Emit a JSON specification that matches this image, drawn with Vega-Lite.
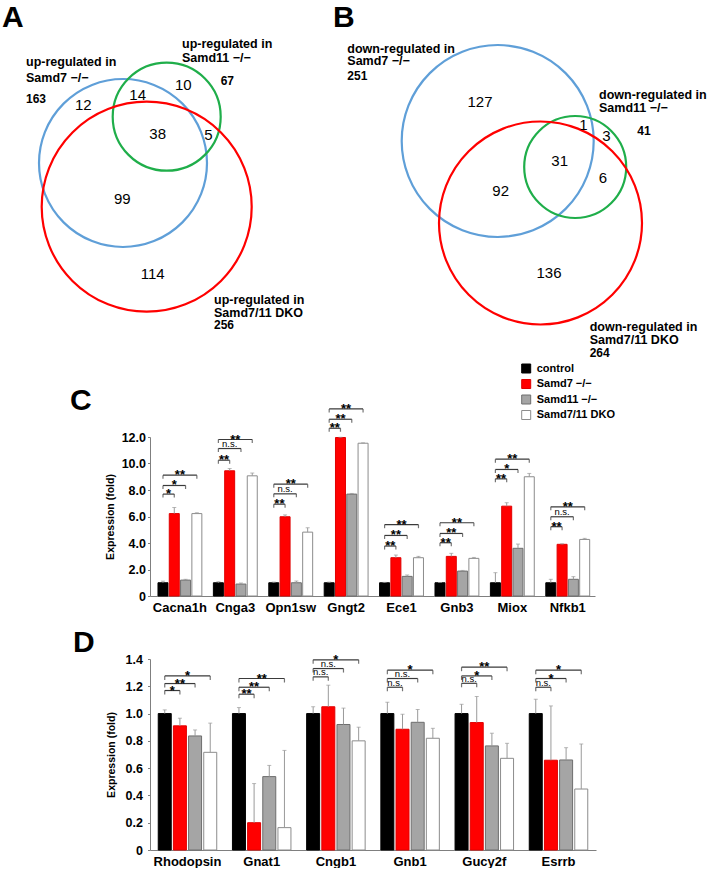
{
"$schema":"https://vega.github.io/schema/vega-lite/v6.json",
"padding":{"left":2,"top":0,"right":0,"bottom":0},
"bounds":"flush",
"spacing":63,
"config":{
 "view":{"stroke":null},
 "font":"Liberation Sans",
 "text":{"font":"Liberation Sans","color":"black"},
 "axis":{"labelFont":"Liberation Sans","titleFont":"Liberation Sans","labelColor":"black","titleColor":"black","domainColor":"#7f7f7f","domainWidth":1,"tickColor":"#7f7f7f","grid":false},
 "axisY":{"titleFontSize":10.5,"titleFontWeight":"bold","labelFontSize":12.5,"labelFontWeight":"bold","tickSize":2.5,"labelOverlap":false},
 "legend":{"labelFont":"Liberation Sans"}
},
"datasets":{
 "vc":[
  {"vx":123,"vy":163,"r":84,"set":"Samd7"},
  {"vx":166.7,"vy":116.7,"r":54,"set":"Samd11"},
  {"vx":146.7,"vy":206.7,"r":105,"set":"DKO"},
  {"vx":497.7,"vy":141,"r":96,"set":"Samd7"},
  {"vx":575.2,"vy":167,"r":51,"set":"Samd11"},
  {"vx":540.5,"vy":223,"r":101.5,"set":"DKO"}
 ],
 "vt":[
  {"vx":2,"vy":27.3,"t":"A","k":"let"},
  {"vx":333,"vy":26.7,"t":"B","k":"let"},
  {"vx":70,"vy":410,"t":"C","k":"let"},
  {"vx":73,"vy":651.7,"t":"D","k":"let"},
  {"vx":26,"vy":66,"t":"up-regulated in","k":"lab"},
  {"vx":26,"vy":81.5,"t":"Samd7 −/−","k":"lab"},
  {"vx":182,"vy":48.3,"t":"up-regulated in","k":"lab"},
  {"vx":182,"vy":62.3,"t":"Samd11 −/−","k":"lab"},
  {"vx":214,"vy":304,"t":"up-regulated in","k":"lab"},
  {"vx":214,"vy":317.3,"t":"Samd7/11 DKO","k":"lab"},
  {"vx":347.3,"vy":53,"t":"down-regulated in","k":"lab"},
  {"vx":347.3,"vy":65,"t":"Samd7 −/−","k":"lab"},
  {"vx":599,"vy":99,"t":"down-regulated in","k":"lab"},
  {"vx":599,"vy":111.7,"t":"Samd11 −/−","k":"lab"},
  {"vx":589.7,"vy":330.7,"t":"down-regulated in","k":"lab"},
  {"vx":589.7,"vy":344,"t":"Samd7/11 DKO","k":"lab"},
  {"vx":26,"vy":103,"t":"163","k":"cnt"},
  {"vx":220.7,"vy":84.6,"t":"67","k":"cnt"},
  {"vx":214,"vy":329,"t":"256","k":"cnt"},
  {"vx":347.3,"vy":80.3,"t":"251","k":"cnt"},
  {"vx":637.3,"vy":134.7,"t":"41","k":"cnt"},
  {"vx":589.7,"vy":357,"t":"264","k":"cnt"},
  {"vx":83.3,"vy":105,"t":"12","k":"num"},
  {"vx":137.7,"vy":95,"t":"14","k":"num"},
  {"vx":183.3,"vy":85,"t":"10","k":"num"},
  {"vx":157.7,"vy":134.3,"t":"38","k":"num"},
  {"vx":208.3,"vy":135,"t":"5","k":"num"},
  {"vx":122.3,"vy":199,"t":"99","k":"num"},
  {"vx":152.7,"vy":274,"t":"114","k":"num"},
  {"vx":480,"vy":102.3,"t":"127","k":"num"},
  {"vx":583.5,"vy":124.5,"t":"1","k":"num"},
  {"vx":606.5,"vy":136,"t":"3","k":"num"},
  {"vx":559.7,"vy":161,"t":"31","k":"num"},
  {"vx":603,"vy":178.3,"t":"6","k":"num"},
  {"vx":500.7,"vy":190.7,"t":"92","k":"num"},
  {"vx":549,"vy":273.3,"t":"136","k":"num"}
 ],
 "cb":[
  {"gene":"Cacna1h","cond":"control","value":1.0,"hi":1.12},
  {"gene":"Cacna1h","cond":"Samd7 −/−","value":6.22,"hi":6.68},
  {"gene":"Cacna1h","cond":"Samd11 −/−","value":1.2,"hi":1.26},
  {"gene":"Cacna1h","cond":"Samd7/11 DKO","value":6.22,"hi":6.28},
  {"gene":"Cnga3","cond":"control","value":1.0,"hi":1.08},
  {"gene":"Cnga3","cond":"Samd7 −/−","value":9.45,"hi":9.62},
  {"gene":"Cnga3","cond":"Samd11 −/−","value":0.9,"hi":0.98},
  {"gene":"Cnga3","cond":"Samd7/11 DKO","value":9.07,"hi":9.28},
  {"gene":"Opn1sw","cond":"control","value":1.0,"hi":1.05},
  {"gene":"Opn1sw","cond":"Samd7 −/−","value":5.98,"hi":6.12},
  {"gene":"Opn1sw","cond":"Samd11 −/−","value":1.0,"hi":1.13},
  {"gene":"Opn1sw","cond":"Samd7/11 DKO","value":4.82,"hi":5.15},
  {"gene":"Gngt2","cond":"control","value":1.0,"hi":1.05},
  {"gene":"Gngt2","cond":"Samd7 −/−","value":11.96,"hi":11.98},
  {"gene":"Gngt2","cond":"Samd11 −/−","value":7.69,"hi":7.74},
  {"gene":"Gngt2","cond":"Samd7/11 DKO","value":11.53,"hi":11.56},
  {"gene":"Ece1","cond":"control","value":1.0,"hi":1.03},
  {"gene":"Ece1","cond":"Samd7 −/−","value":2.89,"hi":3.09},
  {"gene":"Ece1","cond":"Samd11 −/−","value":1.48,"hi":1.58},
  {"gene":"Ece1","cond":"Samd7/11 DKO","value":2.89,"hi":2.99},
  {"gene":"Gnb3","cond":"control","value":1.0,"hi":1.02},
  {"gene":"Gnb3","cond":"Samd7 −/−","value":2.99,"hi":3.22},
  {"gene":"Gnb3","cond":"Samd11 −/−","value":1.88,"hi":1.93},
  {"gene":"Gnb3","cond":"Samd7/11 DKO","value":2.84,"hi":2.91},
  {"gene":"Miox","cond":"control","value":1.0,"hi":1.76},
  {"gene":"Miox","cond":"Samd7 −/−","value":6.78,"hi":7.04},
  {"gene":"Miox","cond":"Samd11 −/−","value":3.6,"hi":3.92},
  {"gene":"Miox","cond":"Samd7/11 DKO","value":9.0,"hi":9.25},
  {"gene":"Nfkb1","cond":"control","value":1.0,"hi":1.26},
  {"gene":"Nfkb1","cond":"Samd7 −/−","value":3.9,"hi":3.94},
  {"gene":"Nfkb1","cond":"Samd11 −/−","value":1.26,"hi":1.46},
  {"gene":"Nfkb1","cond":"Samd7/11 DKO","value":4.27,"hi":4.35}
 ],
 "ck":[
  {"gene":"Cacna1h","from":"control","to":"Samd7 −/−","lvl":7.69,"lab":"*"},
  {"gene":"Cacna1h","from":"control","to":"Samd11 −/−","lvl":8.34,"lab":"*"},
  {"gene":"Cacna1h","from":"control","to":"Samd7/11 DKO","lvl":9.12,"lab":"**"},
  {"gene":"Cnga3","from":"control","to":"Samd7 −/−","lvl":10.25,"lab":"**"},
  {"gene":"Cnga3","from":"control","to":"Samd11 −/−","lvl":11.13,"lab":"n.s."},
  {"gene":"Cnga3","from":"control","to":"Samd7/11 DKO","lvl":11.81,"lab":"**"},
  {"gene":"Opn1sw","from":"control","to":"Samd7 −/−","lvl":6.93,"lab":"**"},
  {"gene":"Opn1sw","from":"control","to":"Samd11 −/−","lvl":7.71,"lab":"n.s."},
  {"gene":"Opn1sw","from":"control","to":"Samd7/11 DKO","lvl":8.44,"lab":"**"},
  {"gene":"Gngt2","from":"control","to":"Samd7 −/−","lvl":12.66,"lab":"**"},
  {"gene":"Gngt2","from":"control","to":"Samd11 −/−","lvl":13.34,"lab":"**"},
  {"gene":"Gngt2","from":"control","to":"Samd7/11 DKO","lvl":14.12,"lab":"**"},
  {"gene":"Ece1","from":"control","to":"Samd7 −/−","lvl":3.77,"lab":"**"},
  {"gene":"Ece1","from":"control","to":"Samd11 −/−","lvl":4.57,"lab":"**"},
  {"gene":"Ece1","from":"control","to":"Samd7/11 DKO","lvl":5.38,"lab":"**"},
  {"gene":"Gnb3","from":"control","to":"Samd7 −/−","lvl":4.02,"lab":"**"},
  {"gene":"Gnb3","from":"control","to":"Samd11 −/−","lvl":4.72,"lab":"**"},
  {"gene":"Gnb3","from":"control","to":"Samd7/11 DKO","lvl":5.53,"lab":"**"},
  {"gene":"Miox","from":"control","to":"Samd7 −/−","lvl":8.84,"lab":"**"},
  {"gene":"Miox","from":"control","to":"Samd11 −/−","lvl":9.55,"lab":"*"},
  {"gene":"Miox","from":"control","to":"Samd7/11 DKO","lvl":10.33,"lab":"**"},
  {"gene":"Nfkb1","from":"control","to":"Samd7 −/−","lvl":5.23,"lab":"**"},
  {"gene":"Nfkb1","from":"control","to":"Samd11 −/−","lvl":5.98,"lab":"n.s."},
  {"gene":"Nfkb1","from":"control","to":"Samd7/11 DKO","lvl":6.73,"lab":"**"}
 ],
 "db":[
  {"gene":"Rhodopsin","cond":"control","value":1.0,"hi":1.027},
  {"gene":"Rhodopsin","cond":"Samd7 −/−","value":0.91,"hi":0.966},
  {"gene":"Rhodopsin","cond":"Samd11 −/−","value":0.836,"hi":0.88},
  {"gene":"Rhodopsin","cond":"Samd7/11 DKO","value":0.716,"hi":0.93},
  {"gene":"Gnat1","cond":"control","value":1.0,"hi":1.044},
  {"gene":"Gnat1","cond":"Samd7 −/−","value":0.2,"hi":0.487},
  {"gene":"Gnat1","cond":"Samd11 −/−","value":0.538,"hi":0.62},
  {"gene":"Gnat1","cond":"Samd7/11 DKO","value":0.164,"hi":0.73},
  {"gene":"Cngb1","cond":"control","value":1.0,"hi":1.05},
  {"gene":"Cngb1","cond":"Samd7 −/−","value":1.05,"hi":1.208},
  {"gene":"Cngb1","cond":"Samd11 −/−","value":0.92,"hi":1.04},
  {"gene":"Cngb1","cond":"Samd7/11 DKO","value":0.8,"hi":0.9},
  {"gene":"Gnb1","cond":"control","value":1.0,"hi":1.083},
  {"gene":"Gnb1","cond":"Samd7 −/−","value":0.885,"hi":0.995},
  {"gene":"Gnb1","cond":"Samd11 −/−","value":0.936,"hi":1.03},
  {"gene":"Gnb1","cond":"Samd7/11 DKO","value":0.819,"hi":0.892},
  {"gene":"Gucy2f","cond":"control","value":1.0,"hi":1.068},
  {"gene":"Gucy2f","cond":"Samd7 −/−","value":0.934,"hi":1.125},
  {"gene":"Gucy2f","cond":"Samd11 −/−","value":0.763,"hi":0.856},
  {"gene":"Gucy2f","cond":"Samd7/11 DKO","value":0.672,"hi":0.782},
  {"gene":"Esrrb","cond":"control","value":1.0,"hi":1.105},
  {"gene":"Esrrb","cond":"Samd7 −/−","value":0.658,"hi":1.056},
  {"gene":"Esrrb","cond":"Samd11 −/−","value":0.66,"hi":0.75},
  {"gene":"Esrrb","cond":"Samd7/11 DKO","value":0.447,"hi":0.777}
 ],
 "dk":[
  {"gene":"Rhodopsin","from":"control","to":"Samd7 −/−","lvl":1.169,"lab":"*"},
  {"gene":"Rhodopsin","from":"control","to":"Samd11 −/−","lvl":1.22,"lab":"**"},
  {"gene":"Rhodopsin","from":"control","to":"Samd7/11 DKO","lvl":1.276,"lab":"*"},
  {"gene":"Gnat1","from":"control","to":"Samd7 −/−","lvl":1.142,"lab":"**"},
  {"gene":"Gnat1","from":"control","to":"Samd11 −/−","lvl":1.193,"lab":"**"},
  {"gene":"Gnat1","from":"control","to":"Samd7/11 DKO","lvl":1.257,"lab":"**"},
  {"gene":"Cngb1","from":"control","to":"Samd7 −/−","lvl":1.269,"lab":"n.s."},
  {"gene":"Cngb1","from":"control","to":"Samd11 −/−","lvl":1.33,"lab":"n.s."},
  {"gene":"Cngb1","from":"control","to":"Samd7/11 DKO","lvl":1.394,"lab":"*"},
  {"gene":"Gnb1","from":"control","to":"Samd7 −/−","lvl":1.193,"lab":"n.s."},
  {"gene":"Gnb1","from":"control","to":"Samd11 −/−","lvl":1.257,"lab":"n.s."},
  {"gene":"Gnb1","from":"control","to":"Samd7/11 DKO","lvl":1.318,"lab":"*"},
  {"gene":"Gucy2f","from":"control","to":"Samd7 −/−","lvl":1.222,"lab":"n.s."},
  {"gene":"Gucy2f","from":"control","to":"Samd11 −/−","lvl":1.276,"lab":"*"},
  {"gene":"Gucy2f","from":"control","to":"Samd7/11 DKO","lvl":1.34,"lab":"**"},
  {"gene":"Esrrb","from":"control","to":"Samd7 −/−","lvl":1.193,"lab":"n.s."},
  {"gene":"Esrrb","from":"control","to":"Samd11 −/−","lvl":1.257,"lab":"*"},
  {"gene":"Esrrb","from":"control","to":"Samd7/11 DKO","lvl":1.318,"lab":"*"}
 ]
},
"vconcat":[
 {
  "width":445,"height":374,
  "encoding":{
   "x":{"field":"vx","type":"quantitative","scale":{"domain":[150,595],"nice":false,"zero":false},"axis":null},
   "y":{"field":"vy","type":"quantitative","scale":{"domain":[0,374],"nice":false,"zero":false,"reverse":true},"axis":null}
  },
  "layer":[
   {"data":{"name":"vc"},"mark":{"type":"point","shape":"circle","filled":false,"strokeWidth":2.2,"opacity":1},
    "encoding":{
     "size":{"field":"r","type":"quantitative","scale":{"type":"pow","exponent":2,"domain":[0,100],"range":[0,40000]},"legend":null},
     "stroke":{"field":"set","type":"nominal","scale":{"domain":["Samd7","Samd11","DKO"],"range":["#5f9fd8","#1fae4a","#ff0000"]},"legend":null}
    }},
   {"data":{"name":"vt"},"transform":[{"filter":"datum.k === 'num'"}],"mark":{"type":"text","fontSize":15,"align":"center","baseline":"middle"},"encoding":{"text":{"field":"t"}}},
   {"data":{"name":"vt"},"transform":[{"filter":"datum.k === 'lab'"}],"mark":{"type":"text","fontSize":12.5,"fontWeight":"bold","align":"left","baseline":"alphabetic"},"encoding":{"text":{"field":"t"}}},
   {"data":{"name":"vt"},"transform":[{"filter":"datum.k === 'cnt'"}],"mark":{"type":"text","fontSize":12,"fontWeight":"bold","align":"left","baseline":"alphabetic"},"encoding":{"text":{"field":"t"}}},
   {"data":{"name":"vt"},"transform":[{"filter":"datum.k === 'let'"}],"mark":{"type":"text","fontSize":30,"fontWeight":"bold","align":"left","baseline":"alphabetic"},"encoding":{"text":{"field":"t"}}}
  ]
 },
 {
  "width":445,"height":159,
  "encoding":{
   "x":{"field":"gene","type":"nominal","sort":null,"scale":{"domain":["Cacna1h","Cnga3","Opn1sw","Gngt2","Ece1","Gnb3","Miox","Nfkb1"],"paddingInner":0.208,"paddingOuter":0.12,"align":0.6},
        "axis":{"title":null,"labelAngle":0,"ticks":false,"labelFontSize":13,"labelFontWeight":"bold","labelPadding":5,"domainColor":"#7f7f7f"}}
  },
  "layer":[
   {"data":{"name":"cb"},"mark":{"type":"bar","strokeWidth":1},
    "encoding":{
     "xOffset":{"field":"cond","type":"nominal","sort":null,"scale":{"domain":["control","Samd7 −/−","Samd11 −/−","Samd7/11 DKO"],"paddingInner":0.115,"paddingOuter":0}},
     "y":{"field":"value","type":"quantitative","scale":{"domain":[0,12],"nice":false},"axis":{"title":"Expression (fold)","titlePadding":6,"values":[0,2,4,6,8,10,12],"labelExpr":"datum.value === 0 ? '0' : format(datum.value, '.1f')","labelPadding":2}},
     "fill":{"field":"cond","type":"nominal","sort":null,"scale":{"domain":["control","Samd7 −/−","Samd11 −/−","Samd7/11 DKO"],"range":["#000000","#ff0000","#a5a5a5","#ffffff"]},
             "legend":{"title":null,"orient":"none","legendX":370.7,"legendY":-74,"labelFontSize":11,"labelFontWeight":"bold","labelColor":"black","symbolType":"square","symbolSize":81,"symbolStrokeColor":"black","symbolStrokeWidth":1,"labelOffset":5,"rowPadding":2.5,"padding":0}},
     "stroke":{"field":"cond","type":"nominal","sort":null,"scale":{"domain":["control","Samd7 −/−","Samd11 −/−","Samd7/11 DKO"],"range":["#000000","#e00000","#6e6e6e","#8c8c8c"]},"legend":null}
    }},
   {"data":{"name":"cb"},"mark":{"type":"rule","color":"#9a9a9a","strokeWidth":1},
    "encoding":{
     "xOffset":{"field":"cond","type":"nominal","sort":null,"scale":{"domain":["control","Samd7 −/−","Samd11 −/−","Samd7/11 DKO"],"paddingInner":0.115,"paddingOuter":0}},
     "y":{"field":"value","type":"quantitative","scale":{"domain":[0,12],"nice":false},"axis":{"title":"Expression (fold)","titlePadding":6,"values":[0,2,4,6,8,10,12],"labelExpr":"datum.value === 0 ? '0' : format(datum.value, '.1f')","labelPadding":2}},
     "y2":{"field":"hi"}
    }},
   {"data":{"name":"cb"},"mark":{"type":"tick","orient":"horizontal","color":"#9a9a9a","size":4,"thickness":1},
    "encoding":{
     "xOffset":{"field":"cond","type":"nominal","sort":null,"scale":{"domain":["control","Samd7 −/−","Samd11 −/−","Samd7/11 DKO"],"paddingInner":0.115,"paddingOuter":0}},
     "y":{"field":"hi","type":"quantitative","scale":{"domain":[0,12],"nice":false},"axis":{"title":"Expression (fold)","titlePadding":6,"values":[0,2,4,6,8,10,12],"labelExpr":"datum.value === 0 ? '0' : format(datum.value, '.1f')","labelPadding":2}}
    }},
   {"data":{"name":"ck"},"transform":[{"fold":["from","to"],"as":["end","cond"]}],"mark":{"type":"line","color":"#3a3a3a","strokeWidth":1.2},
    "encoding":{
     "xOffset":{"field":"cond","type":"nominal","sort":null,"scale":{"domain":["control","Samd7 −/−","Samd11 −/−","Samd7/11 DKO"],"paddingInner":0.115,"paddingOuter":0}},
     "y":{"field":"lvl","type":"quantitative","scale":{"domain":[0,12],"nice":false},"axis":{"title":"Expression (fold)","titlePadding":6,"values":[0,2,4,6,8,10,12],"labelExpr":"datum.value === 0 ? '0' : format(datum.value, '.1f')","labelPadding":2}},
     "detail":[{"field":"gene"},{"field":"to"}]
    }},
   {"data":{"name":"ck"},"transform":[{"fold":["from","to"],"as":["end","cond"]}],"mark":{"type":"tick","orient":"vertical","color":"#3a3a3a","size":3.5,"thickness":1.2,"yOffset":1.75},
    "encoding":{
     "xOffset":{"field":"cond","type":"nominal","sort":null,"scale":{"domain":["control","Samd7 −/−","Samd11 −/−","Samd7/11 DKO"],"paddingInner":0.115,"paddingOuter":0}},
     "y":{"field":"lvl","type":"quantitative","scale":{"domain":[0,12],"nice":false},"axis":{"title":"Expression (fold)","titlePadding":6,"values":[0,2,4,6,8,10,12],"labelExpr":"datum.value === 0 ? '0' : format(datum.value, '.1f')","labelPadding":2}}
    }},
   {"data":{"name":"ck"},"transform":[{"filter":"datum.to === 'Samd7 −/−' && datum.lab !== 'n.s.'"}],"mark":{"type":"text","fontSize":13,"fontWeight":"bold","baseline":"alphabetic","dy":4,"dx":-5.65},
    "encoding":{
     "xOffset":{"field":"to","type":"nominal","sort":null,"scale":{"domain":["control","Samd7 −/−","Samd11 −/−","Samd7/11 DKO"],"paddingInner":0.115,"paddingOuter":0}},
     "y":{"field":"lvl","type":"quantitative","scale":{"domain":[0,12],"nice":false},"axis":{"title":"Expression (fold)","titlePadding":6,"values":[0,2,4,6,8,10,12],"labelExpr":"datum.value === 0 ? '0' : format(datum.value, '.1f')","labelPadding":2}},
     "text":{"field":"lab"}
    }},
   {"data":{"name":"ck"},"transform":[{"filter":"datum.to === 'Samd7 −/−' && datum.lab === 'n.s.'"}],"mark":{"type":"text","fontSize":9.5,"baseline":"alphabetic","dy":-1.5,"dx":-5.65},
    "encoding":{
     "xOffset":{"field":"to","type":"nominal","sort":null,"scale":{"domain":["control","Samd7 −/−","Samd11 −/−","Samd7/11 DKO"],"paddingInner":0.115,"paddingOuter":0}},
     "y":{"field":"lvl","type":"quantitative","scale":{"domain":[0,12],"nice":false},"axis":{"title":"Expression (fold)","titlePadding":6,"values":[0,2,4,6,8,10,12],"labelExpr":"datum.value === 0 ? '0' : format(datum.value, '.1f')","labelPadding":2}},
     "text":{"field":"lab"}
    }},
   {"data":{"name":"ck"},"transform":[{"filter":"datum.to === 'Samd11 −/−' && datum.lab !== 'n.s.'"}],"mark":{"type":"text","fontSize":13,"fontWeight":"bold","baseline":"alphabetic","dy":4,"dx":-11.3},
    "encoding":{
     "xOffset":{"field":"to","type":"nominal","sort":null,"scale":{"domain":["control","Samd7 −/−","Samd11 −/−","Samd7/11 DKO"],"paddingInner":0.115,"paddingOuter":0}},
     "y":{"field":"lvl","type":"quantitative","scale":{"domain":[0,12],"nice":false},"axis":{"title":"Expression (fold)","titlePadding":6,"values":[0,2,4,6,8,10,12],"labelExpr":"datum.value === 0 ? '0' : format(datum.value, '.1f')","labelPadding":2}},
     "text":{"field":"lab"}
    }},
   {"data":{"name":"ck"},"transform":[{"filter":"datum.to === 'Samd11 −/−' && datum.lab === 'n.s.'"}],"mark":{"type":"text","fontSize":9.5,"baseline":"alphabetic","dy":-1.5,"dx":-11.3},
    "encoding":{
     "xOffset":{"field":"to","type":"nominal","sort":null,"scale":{"domain":["control","Samd7 −/−","Samd11 −/−","Samd7/11 DKO"],"paddingInner":0.115,"paddingOuter":0}},
     "y":{"field":"lvl","type":"quantitative","scale":{"domain":[0,12],"nice":false},"axis":{"title":"Expression (fold)","titlePadding":6,"values":[0,2,4,6,8,10,12],"labelExpr":"datum.value === 0 ? '0' : format(datum.value, '.1f')","labelPadding":2}},
     "text":{"field":"lab"}
    }},
   {"data":{"name":"ck"},"transform":[{"filter":"datum.to === 'Samd7/11 DKO'"}],"mark":{"type":"text","fontSize":13,"fontWeight":"bold","baseline":"alphabetic","dy":4,"dx":-16.95},
    "encoding":{
     "xOffset":{"field":"to","type":"nominal","sort":null,"scale":{"domain":["control","Samd7 −/−","Samd11 −/−","Samd7/11 DKO"],"paddingInner":0.115,"paddingOuter":0}},
     "y":{"field":"lvl","type":"quantitative","scale":{"domain":[0,12],"nice":false},"axis":{"title":"Expression (fold)","titlePadding":6,"values":[0,2,4,6,8,10,12],"labelExpr":"datum.value === 0 ? '0' : format(datum.value, '.1f')","labelPadding":2}},
     "text":{"field":"lab"}
    }}
  ]
 },
 {
  "width":446,"height":191,
  "encoding":{
   "x":{"field":"gene","type":"nominal","sort":null,"scale":{"domain":["Rhodopsin","Gnat1","Cngb1","Gnb1","Gucy2f","Esrrb"],"paddingInner":0.2116,"paddingOuter":0.111,"align":0.5},
        "axis":{"title":null,"labelAngle":0,"ticks":false,"labelFontSize":13,"labelFontWeight":"bold","labelPadding":5,"domainColor":"#7f7f7f"}}
  },
  "layer":[
   {"data":{"name":"db"},"mark":{"type":"bar","strokeWidth":1},
    "encoding":{
     "xOffset":{"field":"cond","type":"nominal","sort":null,"scale":{"domain":["control","Samd7 −/−","Samd11 −/−","Samd7/11 DKO"],"paddingInner":0.143,"paddingOuter":0}},
     "y":{"field":"value","type":"quantitative","scale":{"domain":[0,1.4],"nice":false},"axis":{"title":"Expression (fold)","titlePadding":9,"values":[0,0.2,0.4,0.6,0.8,1,1.2,1.4],"labelExpr":"datum.value === 0 ? '0' : format(datum.value, '.1f')","labelPadding":5}},
     "fill":{"field":"cond","type":"nominal","sort":null,"scale":{"domain":["control","Samd7 −/−","Samd11 −/−","Samd7/11 DKO"],"range":["#000000","#ff0000","#a5a5a5","#ffffff"]},"legend":null},
     "stroke":{"field":"cond","type":"nominal","sort":null,"scale":{"domain":["control","Samd7 −/−","Samd11 −/−","Samd7/11 DKO"],"range":["#000000","#e00000","#6e6e6e","#8c8c8c"]},"legend":null}
    }},
   {"data":{"name":"db"},"mark":{"type":"rule","color":"#9a9a9a","strokeWidth":1},
    "encoding":{
     "xOffset":{"field":"cond","type":"nominal","sort":null,"scale":{"domain":["control","Samd7 −/−","Samd11 −/−","Samd7/11 DKO"],"paddingInner":0.143,"paddingOuter":0}},
     "y":{"field":"value","type":"quantitative","scale":{"domain":[0,1.4],"nice":false},"axis":{"title":"Expression (fold)","titlePadding":9,"values":[0,0.2,0.4,0.6,0.8,1,1.2,1.4],"labelExpr":"datum.value === 0 ? '0' : format(datum.value, '.1f')","labelPadding":5}},
     "y2":{"field":"hi"}
    }},
   {"data":{"name":"db"},"mark":{"type":"tick","orient":"horizontal","color":"#9a9a9a","size":4,"thickness":1},
    "encoding":{
     "xOffset":{"field":"cond","type":"nominal","sort":null,"scale":{"domain":["control","Samd7 −/−","Samd11 −/−","Samd7/11 DKO"],"paddingInner":0.143,"paddingOuter":0}},
     "y":{"field":"hi","type":"quantitative","scale":{"domain":[0,1.4],"nice":false},"axis":{"title":"Expression (fold)","titlePadding":9,"values":[0,0.2,0.4,0.6,0.8,1,1.2,1.4],"labelExpr":"datum.value === 0 ? '0' : format(datum.value, '.1f')","labelPadding":5}}
    }},
   {"data":{"name":"dk"},"transform":[{"fold":["from","to"],"as":["end","cond"]}],"mark":{"type":"line","color":"#3a3a3a","strokeWidth":1.2},
    "encoding":{
     "xOffset":{"field":"cond","type":"nominal","sort":null,"scale":{"domain":["control","Samd7 −/−","Samd11 −/−","Samd7/11 DKO"],"paddingInner":0.143,"paddingOuter":0}},
     "y":{"field":"lvl","type":"quantitative","scale":{"domain":[0,1.4],"nice":false},"axis":{"title":"Expression (fold)","titlePadding":9,"values":[0,0.2,0.4,0.6,0.8,1,1.2,1.4],"labelExpr":"datum.value === 0 ? '0' : format(datum.value, '.1f')","labelPadding":5}},
     "detail":[{"field":"gene"},{"field":"to"}]
    }},
   {"data":{"name":"dk"},"transform":[{"fold":["from","to"],"as":["end","cond"]}],"mark":{"type":"tick","orient":"vertical","color":"#3a3a3a","size":4,"thickness":1.2,"yOffset":2},
    "encoding":{
     "xOffset":{"field":"cond","type":"nominal","sort":null,"scale":{"domain":["control","Samd7 −/−","Samd11 −/−","Samd7/11 DKO"],"paddingInner":0.143,"paddingOuter":0}},
     "y":{"field":"lvl","type":"quantitative","scale":{"domain":[0,1.4],"nice":false},"axis":{"title":"Expression (fold)","titlePadding":9,"values":[0,0.2,0.4,0.6,0.8,1,1.2,1.4],"labelExpr":"datum.value === 0 ? '0' : format(datum.value, '.1f')","labelPadding":5}}
    }},
   {"data":{"name":"dk"},"transform":[{"filter":"datum.to === 'Samd7 −/−' && datum.lab !== 'n.s.'"}],"mark":{"type":"text","fontSize":13,"fontWeight":"bold","baseline":"alphabetic","dy":4,"dx":-7.58},
    "encoding":{
     "xOffset":{"field":"to","type":"nominal","sort":null,"scale":{"domain":["control","Samd7 −/−","Samd11 −/−","Samd7/11 DKO"],"paddingInner":0.143,"paddingOuter":0}},
     "y":{"field":"lvl","type":"quantitative","scale":{"domain":[0,1.4],"nice":false},"axis":{"title":"Expression (fold)","titlePadding":9,"values":[0,0.2,0.4,0.6,0.8,1,1.2,1.4],"labelExpr":"datum.value === 0 ? '0' : format(datum.value, '.1f')","labelPadding":5}},
     "text":{"field":"lab"}
    }},
   {"data":{"name":"dk"},"transform":[{"filter":"datum.to === 'Samd7 −/−' && datum.lab === 'n.s.'"}],"mark":{"type":"text","fontSize":9.5,"baseline":"alphabetic","dy":-1.5,"dx":-7.58},
    "encoding":{
     "xOffset":{"field":"to","type":"nominal","sort":null,"scale":{"domain":["control","Samd7 −/−","Samd11 −/−","Samd7/11 DKO"],"paddingInner":0.143,"paddingOuter":0}},
     "y":{"field":"lvl","type":"quantitative","scale":{"domain":[0,1.4],"nice":false},"axis":{"title":"Expression (fold)","titlePadding":9,"values":[0,0.2,0.4,0.6,0.8,1,1.2,1.4],"labelExpr":"datum.value === 0 ? '0' : format(datum.value, '.1f')","labelPadding":5}},
     "text":{"field":"lab"}
    }},
   {"data":{"name":"dk"},"transform":[{"filter":"datum.to === 'Samd11 −/−' && datum.lab !== 'n.s.'"}],"mark":{"type":"text","fontSize":13,"fontWeight":"bold","baseline":"alphabetic","dy":4,"dx":-15.17},
    "encoding":{
     "xOffset":{"field":"to","type":"nominal","sort":null,"scale":{"domain":["control","Samd7 −/−","Samd11 −/−","Samd7/11 DKO"],"paddingInner":0.143,"paddingOuter":0}},
     "y":{"field":"lvl","type":"quantitative","scale":{"domain":[0,1.4],"nice":false},"axis":{"title":"Expression (fold)","titlePadding":9,"values":[0,0.2,0.4,0.6,0.8,1,1.2,1.4],"labelExpr":"datum.value === 0 ? '0' : format(datum.value, '.1f')","labelPadding":5}},
     "text":{"field":"lab"}
    }},
   {"data":{"name":"dk"},"transform":[{"filter":"datum.to === 'Samd11 −/−' && datum.lab === 'n.s.'"}],"mark":{"type":"text","fontSize":9.5,"baseline":"alphabetic","dy":-1.5,"dx":-15.17},
    "encoding":{
     "xOffset":{"field":"to","type":"nominal","sort":null,"scale":{"domain":["control","Samd7 −/−","Samd11 −/−","Samd7/11 DKO"],"paddingInner":0.143,"paddingOuter":0}},
     "y":{"field":"lvl","type":"quantitative","scale":{"domain":[0,1.4],"nice":false},"axis":{"title":"Expression (fold)","titlePadding":9,"values":[0,0.2,0.4,0.6,0.8,1,1.2,1.4],"labelExpr":"datum.value === 0 ? '0' : format(datum.value, '.1f')","labelPadding":5}},
     "text":{"field":"lab"}
    }},
   {"data":{"name":"dk"},"transform":[{"filter":"datum.to === 'Samd7/11 DKO'"}],"mark":{"type":"text","fontSize":13,"fontWeight":"bold","baseline":"alphabetic","dy":4,"dx":-22.75},
    "encoding":{
     "xOffset":{"field":"to","type":"nominal","sort":null,"scale":{"domain":["control","Samd7 −/−","Samd11 −/−","Samd7/11 DKO"],"paddingInner":0.143,"paddingOuter":0}},
     "y":{"field":"lvl","type":"quantitative","scale":{"domain":[0,1.4],"nice":false},"axis":{"title":"Expression (fold)","titlePadding":9,"values":[0,0.2,0.4,0.6,0.8,1,1.2,1.4],"labelExpr":"datum.value === 0 ? '0' : format(datum.value, '.1f')","labelPadding":5}},
     "text":{"field":"lab"}
    }}
  ]
 }
],
"resolve":{"scale":{"x":"independent","y":"independent","xOffset":"independent","fill":"independent","stroke":"independent","size":"independent"}}
}
